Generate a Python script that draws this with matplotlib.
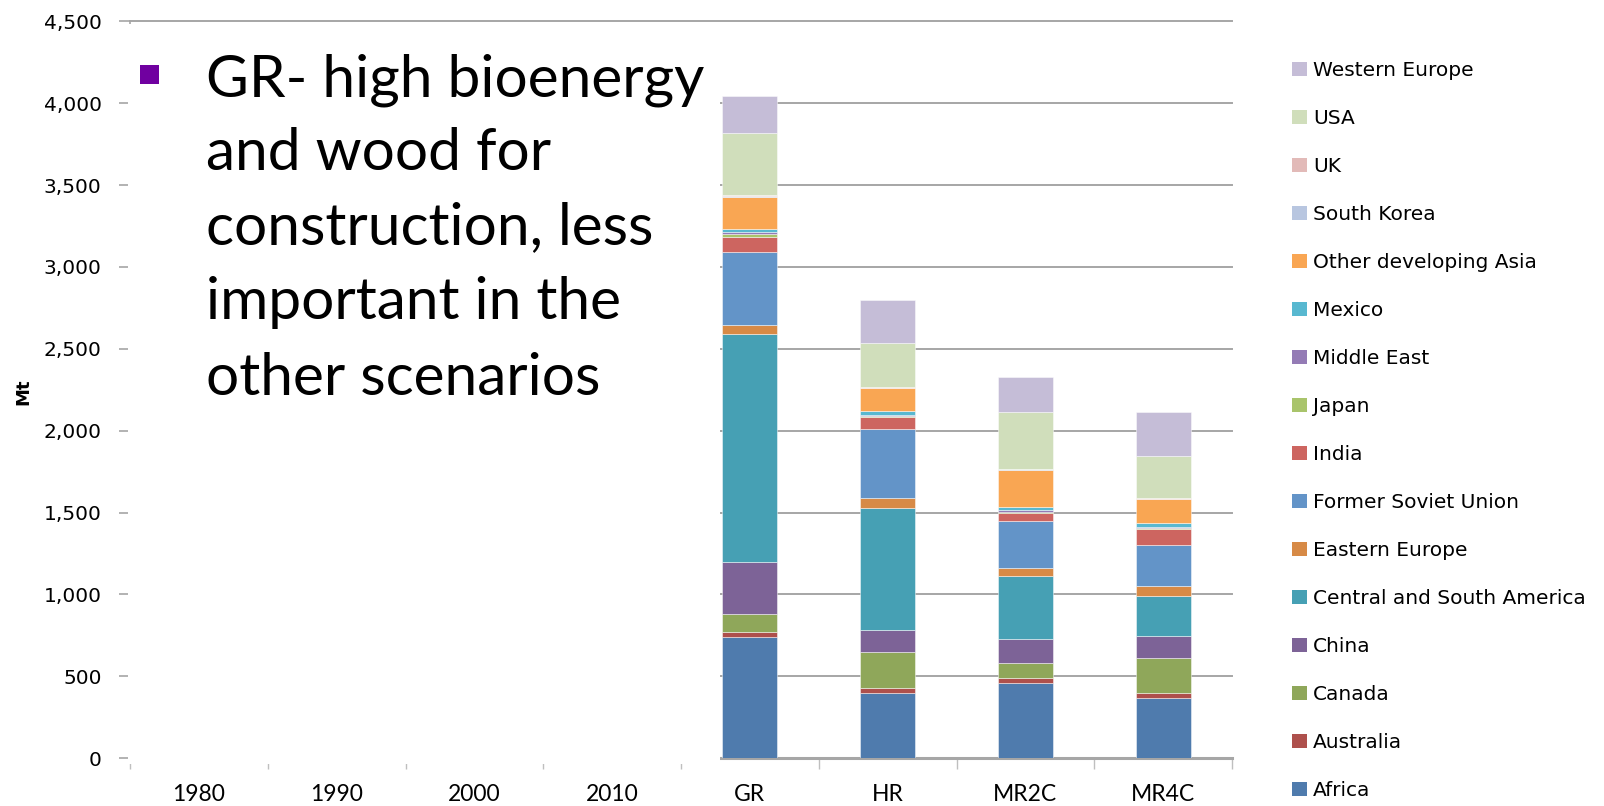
import matplotlib
matplotlib.use("Agg")
import matplotlib.pyplot as plt
from matplotlib.patches import Rectangle, Patch
from matplotlib.ticker import FuncFormatter, MultipleLocator
import numpy as np

# Scenario / year categories on the x axis
categories = ["1980", "1990", "2000", "2010", "GR", "HR", "MR2C", "MR4C"]

# Regional values in Mt (historic years empty)
africa        = [0, 0, 0, 0, 740, 395, 460, 368]
australia     = [0, 0, 0, 0, 32, 34, 29, 29]
canada        = [0, 0, 0, 0, 108, 218, 90, 216]
china         = [0, 0, 0, 0, 315, 133, 151, 133]
c_s_america   = [0, 0, 0, 0, 1398, 750, 381, 243]
eastern_eu    = [0, 0, 0, 0, 53, 61, 49, 59]
former_ussr   = [0, 0, 0, 0, 443, 418, 288, 251]
india         = [0, 0, 0, 0, 96, 76, 50, 100]
japan         = [0, 0, 0, 0, 15, 5, 4, 4]
middle_east   = [0, 0, 0, 0, 12, 8, 14, 10]
mexico        = [0, 0, 0, 0, 18, 21, 20, 25]
other_asia    = [0, 0, 0, 0, 200, 140, 225, 143]
south_korea   = [0, 0, 0, 0, 5, 3, 3, 3]
uk            = [0, 0, 0, 0, 3, 2, 2, 3]
usa           = [0, 0, 0, 0, 379, 271, 347, 260]
western_eu    = [0, 0, 0, 0, 228, 265, 212, 265]

series = [
    ("Africa", africa, "#4F7BAD"),
    ("Australia", australia, "#AE504C"),
    ("Canada", canada, "#8FA75A"),
    ("China", china, "#7D6397"),
    ("Central and South America", c_s_america, "#46A0B4"),
    ("Eastern Europe", eastern_eu, "#D78A46"),
    ("Former Soviet Union", former_ussr, "#6394C8"),
    ("India", india, "#CD6560"),
    ("Japan", japan, "#A9C46B"),
    ("Middle East", middle_east, "#947BB5"),
    ("Mexico", mexico, "#58B8D0"),
    ("Other developing Asia", other_asia, "#F9A653"),
    ("South Korea", south_korea, "#B8C6E0"),
    ("UK", uk, "#E2BAB8"),
    ("USA", usa, "#D0DEBB"),
    ("Western Europe", western_eu, "#C5BDD7"),
]

headline = ["GR- high bioenergy", "and wood for", "construction, less",
            "important in the", "other scenarios"]

W, H = 1604, 806
fig = plt.figure(figsize=(W / 100, H / 100), dpi=100)
fig.patch.set_facecolor("white")

ax_left, ax_right, ax_top, ax_bottom = 130, 1232, 21.5, 758
ax = fig.add_axes([ax_left / W, (H - ax_bottom) / H,
                   (ax_right - ax_left) / W, (ax_bottom - ax_top) / H])

x = np.arange(len(categories))
bottom = np.zeros(len(categories))
handles = []
for name, vals, col in series:
    vals = np.array(vals, dtype=float)
    ax.bar(x, vals, width=0.4, bottom=bottom, color=col,
           edgecolor=(1, 1, 1, 0.55), linewidth=0.6, zorder=3)
    bottom += vals
    handles.append(Patch(facecolor=col, edgecolor="none", label=name))

grid_col = "#A6A6A6"
ax.set_xlim(-0.5, len(categories) - 0.5)
ax.set_ylim(0, 4500)
ax.yaxis.set_major_locator(MultipleLocator(500))
ax.yaxis.set_major_formatter(FuncFormatter(lambda v, p: f"{int(v):,}"))
ax.grid(axis="y", color=grid_col, linewidth=1.4, zorder=0)
ax.set_axisbelow(True)
for gl in ax.get_ygridlines():
    gl.set_clip_on(False)

for s in ["top", "right"]:
    ax.spines[s].set_visible(False)
ax.spines["left"].set_color(grid_col)
ax.spines["left"].set_linewidth(1.2)
ax.spines["bottom"].set_color(grid_col)
ax.spines["bottom"].set_linewidth(2.2)

ax.set_xticks(x)
ax.set_xticklabels(categories, fontfamily="Lato", fontsize=16.5)
ax.set_xticks(np.arange(-0.5, len(categories)), minor=True)
ax.tick_params(axis="x", which="major", length=0, pad=18.5)
ax.tick_params(axis="x", which="minor", length=8, color="#BFBFBF", width=1)
ax.tick_params(axis="y", length=8, color=grid_col, width=1.2, pad=12.5,
               labelsize=14.5)
for lab in ax.get_yticklabels():
    lab.set_fontfamily("DejaVu Sans")

fig.text(23 / W, 1 - 392 / H, "Mt", rotation=90, fontsize=13,
         fontweight="bold", ha="center", va="center")

# Legend, top entry first
fs = 14.5
fs_px = fs * 100 / 72
fig.legend(handles=handles[::-1], loc="upper left",
           bbox_to_anchor=(1292 / W, 1 - 61 / H), frameon=False,
           fontsize=fs, handlelength=15 / fs_px, handleheight=15 / fs_px,
           handletextpad=6 / fs_px, labelspacing=1.44, borderpad=0,
           borderaxespad=0)

# Slide text box laid over the chart
fig.add_artist(Rectangle((128 / W, (H - 764) / H), (720 - 128) / W, (764 - 24) / H,
                         transform=fig.transFigure, facecolor="white",
                         edgecolor="none", zorder=5))
fig.add_artist(Rectangle((140 / W, (H - 84) / H), 19 / W, 19 / H,
                         transform=fig.transFigure, facecolor="#7000A0",
                         edgecolor="none", zorder=6))
line_y = [80, 154, 228, 303, 379]
for txt, yy in zip(headline, line_y):
    fig.text(206 / W, 1 - yy / H, txt, fontfamily="Lato", fontsize=42.2,
             ha="left", va="center", zorder=7)

fig.savefig("out.png", dpi=100, facecolor="white")
